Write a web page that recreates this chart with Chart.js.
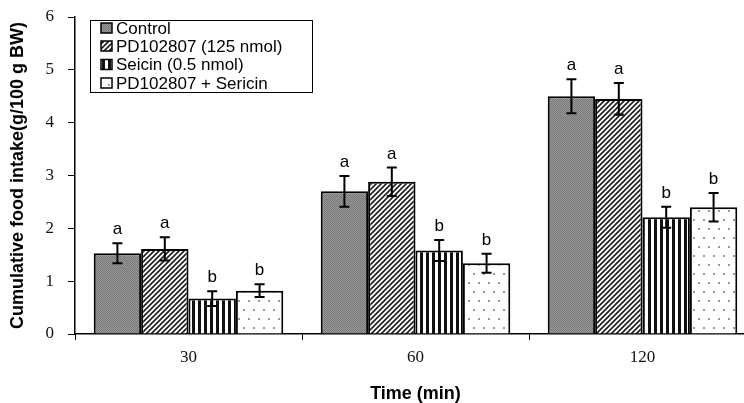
<!DOCTYPE html>
<html>
<head>
<meta charset="utf-8">
<script src="https://cdn.jsdelivr.net/npm/chart.js@4"></script>
<style>
  html, body { margin: 0; padding: 0; background: #fff; overflow: hidden; }
  #wrap { width: 756px; height: 403px; }
</style>
</head>
<body>
<div id="wrap"><canvas id="chart" width="756" height="403"></canvas></div>
<script>
// data
const times = ["30", "60", "120"];
const seriesNames = ["Control", "PD102807 (125 nmol)", "Seicin (0.5 nmol)", "PD102807 + Sericin"];
const control = [1.53, 2.70, 4.50];
const pd = [1.61, 2.88, 4.45];
const seicin = [0.67, 1.58, 2.21];
const combo = [0.82, 1.34, 2.40];
const controlErr = [0.19, 0.29, 0.32];
const pdErr = [0.22, 0.27, 0.30];
const seicinErr = [0.14, 0.20, 0.20];
const comboErr = [0.12, 0.18, 0.27];
const controlSig = ["a", "a", "a"];
const pdSig = ["a", "a", "a"];
const seicinSig = ["b", "b", "b"];
const comboSig = ["b", "b", "b"];
const yTicks = [0, 1, 2, 3, 4, 5, 6];

const ctx = document.getElementById("chart").getContext("2d");

function makePattern(w, h, draw) {
    const c = document.createElement("canvas");
    c.width = w;
    c.height = h;
    const g = c.getContext("2d");
    g.fillStyle = "#fff";
    g.fillRect(0, 0, w, h);
    draw(g);
    return ctx.createPattern(c, "repeat");
}

// dark grey dither
const patControl = makePattern(2, 2, g => {
    g.fillStyle = "#9c9c9c";
    g.fillRect(0, 0, 2, 2);
    g.fillStyle = "#747474";
    g.fillRect(0, 0, 1, 1);
    g.fillRect(1, 1, 1, 1);
});
// diagonal hatch
const patPd = makePattern(5, 5, g => {
    g.strokeStyle = "#222";
    g.lineWidth = 1.7;
    g.beginPath();
    g.moveTo(-1, 6); g.lineTo(6, -1);
    g.moveTo(-1, 1); g.lineTo(1, -1);
    g.moveTo(4, 6); g.lineTo(6, 4);
    g.stroke();
});
// vertical stripes
const patSeicin = makePattern(6, 6, g => {
    g.fillStyle = "#111";
    g.fillRect(0, 0, 3, 6);
});
// sparse dots
const patCombo = makePattern(20, 18, g => {
    g.fillStyle = "#999";
    g.fillRect(3, 3, 2, 2);
    g.fillRect(13, 3, 2, 2);
    g.fillRect(8, 12, 2, 2);
    g.fillRect(18, 12, 2, 2);
});

const patterns = [patControl, patPd, patSeicin, patCombo];
const values = [control, pd, seicin, combo];
const errors = [controlErr, pdErr, seicinErr, comboErr];
const letters = [controlSig, pdSig, seicinSig, comboSig];

const errorBars = {
    id: "errorBars",
    afterDatasetsDraw(chart) {
        const g = chart.ctx;
        const y = chart.scales.y;
        g.save();
        g.strokeStyle = "#000";
        g.lineWidth = 2;
        g.fillStyle = "#000";
        g.font = "17px 'Liberation Sans', Arial, sans-serif";
        g.textAlign = "center";
        g.textBaseline = "alphabetic";
        chart.data.datasets.forEach((ds, di) => {
            const meta = chart.getDatasetMeta(di);
            meta.data.forEach((bar, i) => {
                const v = ds.data[i];
                const e = errors[di][i];
                const top = y.getPixelForValue(v + e);
                const bot = y.getPixelForValue(v - e);
                g.beginPath();
                g.moveTo(bar.x, top); g.lineTo(bar.x, bot);
                g.moveTo(bar.x - 5, top); g.lineTo(bar.x + 5, top);
                g.moveTo(bar.x - 5, bot); g.lineTo(bar.x + 5, bot);
                g.stroke();
                g.fillText(letters[di][i], bar.x, top - 9);
            });
        });
        g.restore();
    }
};

const boxLegend = {
    id: "boxLegend",
    afterDraw(chart) {
        const g = chart.ctx;
        g.save();
        g.fillStyle = "#fff";
        g.fillRect(90, 20, 222, 72);
        g.strokeStyle = "#000";
        g.lineWidth = 1;
        g.strokeRect(90.5, 20.5, 222, 72);
        const rows = [28, 46, 64.5, 83];
        g.font = "17px 'Liberation Sans', Arial, sans-serif";
        g.textBaseline = "middle";
        g.textAlign = "left";
        seriesNames.forEach((name, i) => {
            g.fillStyle = patterns[i];
            g.fillRect(101, rows[i] - 5, 11, 10);
            g.lineWidth = 1.5;
            g.strokeRect(101, rows[i] - 5, 11, 10);
            g.fillStyle = "#000";
            g.fillText(name, 116, rows[i] + 1);
        });
        g.restore();
    }
};

const chart = new Chart(ctx, {
    type: "bar",
    data: {
        labels: times,
        datasets: seriesNames.map((name, i) => ({
            label: name,
            data: values[i],
            backgroundColor: patterns[i],
            borderColor: "#000",
            borderWidth: 2,
            categoryPercentage: 0.835,
            barPercentage: 1.0
        }))
    },
    options: {
        responsive: false,
        animation: false,
        devicePixelRatio: 1,
        layout: { padding: { left: 0, right: 0, top: 17, bottom: 0 } },
        plugins: {
            legend: { display: false },
            tooltip: { enabled: false }
        },
        scales: {
            x: {
                grid: {
                    drawOnChartArea: false,
                    drawTicks: true,
                    tickLength: 6,
                    color: "#000",
                    offset: true
                },
                border: { color: "#000", width: 1.5 },
                ticks: {
                    color: "#111",
                    padding: 7,
                    font: { family: "'Liberation Serif', 'Times New Roman', serif", size: 17 }
                },
                title: {
                    display: true,
                    text: "Time (min)",
                    color: "#000",
                    padding: { top: 0, bottom: 0 },
                    font: { family: "'Liberation Sans', Arial, sans-serif", size: 18, weight: "bold", lineHeight: 1 }
                },
                afterFit: s => { s.height = 69; s.paddingLeft = 0; s.paddingRight = 0; }
            },
            y: {
                min: 0,
                max: 6,
                afterBuildTicks: s => { s.ticks = yTicks.map(v => ({ value: v })); },
                grid: {
                    drawOnChartArea: false,
                    drawTicks: true,
                    tickLength: 7,
                    color: "#000"
                },
                border: { color: "#000", width: 1.5 },
                ticks: {
                    color: "#111",
                    padding: 14,
                    font: { family: "'Liberation Serif', 'Times New Roman', serif", size: 17 }
                },
                title: {
                    display: true,
                    text: "Cumulative food intake(g/100 g BW)",
                    color: "#000",
                    padding: { top: 7, bottom: 0 },
                    font: { family: "'Liberation Sans', Arial, sans-serif", size: 18, weight: "bold" }
                },
                afterFit: s => { s.width = 75; s.paddingTop = 0; s.paddingBottom = 0; }
            }
        }
    },
    plugins: [errorBars, boxLegend]
});
</script>
</body>
</html>
